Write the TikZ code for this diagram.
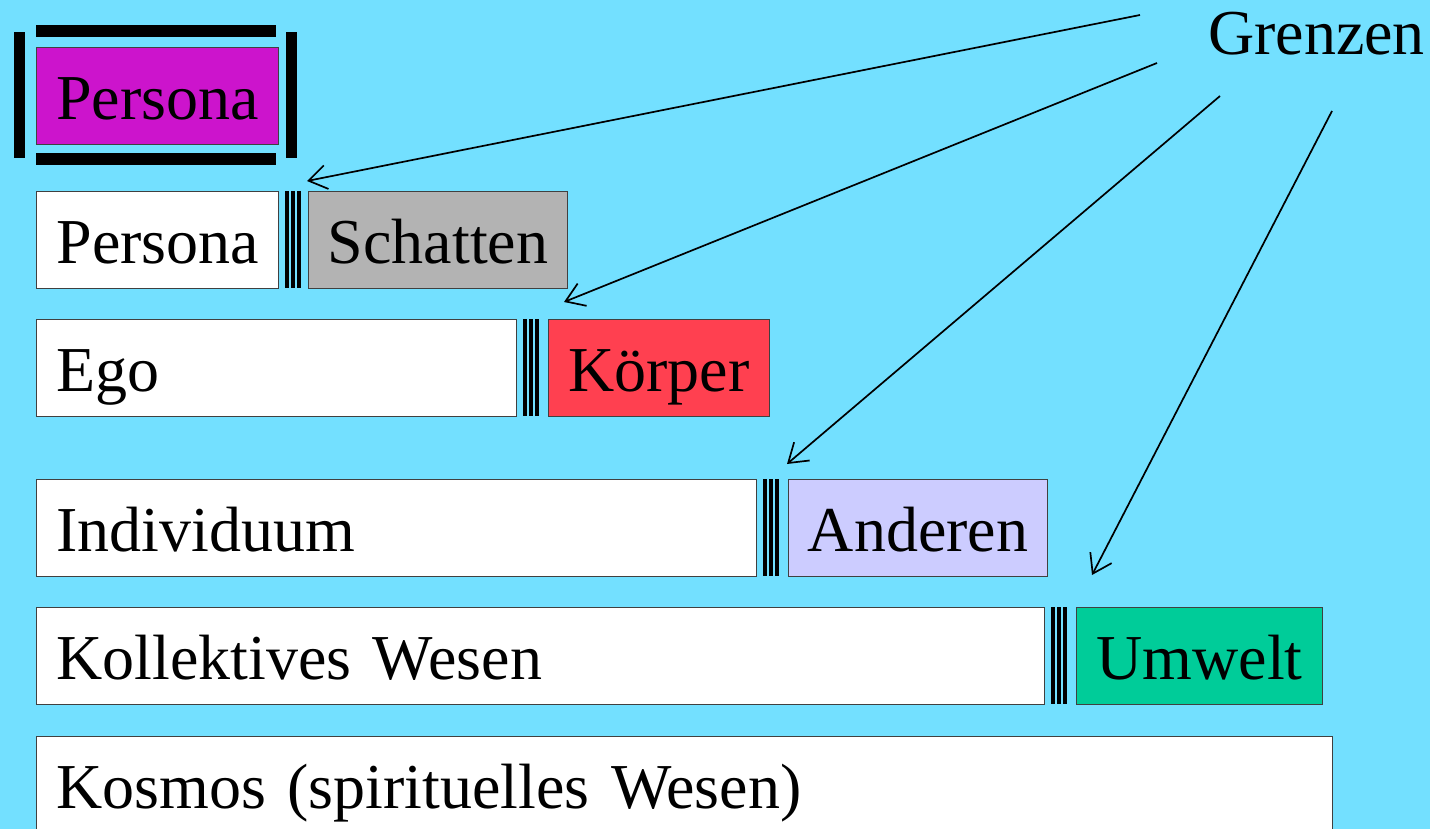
\documentclass[tikz,border=0pt]{standalone}
\usepackage{fontspec}
\setmainfont{Liberation Serif}
\usetikzlibrary{arrows.meta}
\definecolor{bg}{RGB}{115,224,255}
\definecolor{cpersona}{RGB}{204,20,204}
\definecolor{cschatten}{RGB}{179,179,179}
\definecolor{ckoerper}{RGB}{255,64,80}
\definecolor{canderen}{RGB}{204,204,255}
\definecolor{cumwelt}{RGB}{0,204,153}
\begin{document}
\begin{tikzpicture}[x=1pt,y=-1pt,
  big/.style={font=\fontsize{64}{77}\selectfont},
  box/.style={big, draw=black!75, line width=1pt, anchor=north west,
    minimum height=97pt, inner ysep=0pt, text height=58pt, text depth=11pt},
  leftbox/.style={box, fill=white, inner xsep=20pt, align=left},
  colbox/.style={box, inner xsep=0pt},
  bar/.style={fill=black},
  sepline/.style={line width=3.4pt, draw=black},
  arr/.style={line width=1.7pt, -{Straight Barb[length=18pt,width=24pt,line width=1.7pt]}}
]
\fill[bg] (0,0) rectangle (1430,829);
\useasboundingbox (0,0) rectangle (1430,829);

% top Persona with bars
\node[colbox, fill=cpersona, minimum width=242pt] (p1) at (36,47) {Persona};
\fill[bar] (14,32) rectangle (25,158);
\fill[bar] (286,32) rectangle (297,158);
\fill[bar] (36,25) rectangle (276,37);
\fill[bar] (36,153) rectangle (276,165);

% row 2
\node[leftbox, text width=202pt, minimum width=242pt] (p2) at (36,191) {Persona};
\node[colbox, fill=cschatten, minimum width=259pt] (s2) at (308,191) {Schatten};
% row 3
\node[leftbox, text width=440pt, minimum width=480pt] (e3) at (36,319) {Ego};
\node[colbox, fill=ckoerper, minimum width=221pt] (k3) at (548,319) {Körper};
% row 4
\node[leftbox, text width=680pt, minimum width=720pt] (i4) at (36,479) {Individuum};
\node[colbox, fill=canderen, minimum width=259pt] (a4) at (788,479) {Anderen};
% row 5
\node[leftbox, text width=968pt, minimum width=1008pt] (w5) at (36,607) {Kollektives Wesen};
\node[colbox, fill=cumwelt, minimum width=246pt] (u5) at (1076,607) {Umwelt};
% row 6
\node[leftbox, text width=1256pt, minimum width=1296pt] (k6) at (36,736) {Kosmos (spirituelles Wesen)};

% separators
\foreach \r/\t in {278/191, 516/319, 756/479, 1044/607}{
  \foreach \d in {9,15,21}{
    \draw[sepline] (\r+\d,\t) -- (\r+\d,\t+97);
  }
}

% Grenzen
\node[big, anchor=base west, inner sep=0pt] (gr) at (1208,55) {Grenzen};
\coordinate (g1) at (1140,15);
\coordinate (g2) at (1157,63);
\coordinate (g3) at (1220,96);
\coordinate (g4) at (1332,111);
\coordinate (t1) at (307,181);
\coordinate (t2) at (564,302);
\coordinate (t3) at (787,464);
\coordinate (t4) at (1092,575);
\draw[arr] (g1) -- (t1);
\draw[arr] (g2) -- (t2);
\draw[arr] (g3) -- (t3);
\draw[arr] (g4) -- (t4);
\end{tikzpicture}
\end{document}
